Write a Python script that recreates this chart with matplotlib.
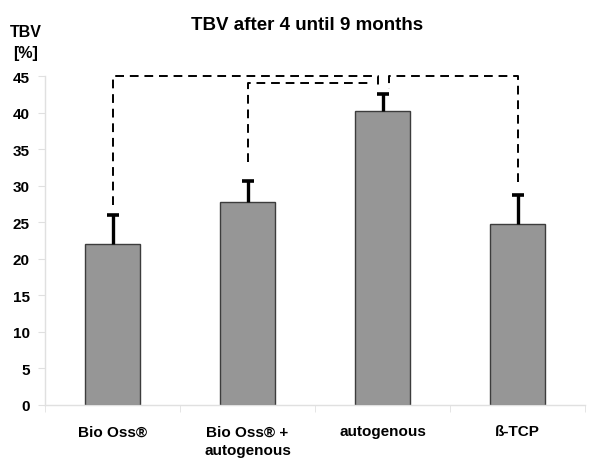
import matplotlib
matplotlib.use("Agg")
import matplotlib.pyplot as plt
import numpy as np

# TBV per graft material, mean and upper error (SD)
groups = ["Bio Oss®", "Bio Oss® +\nautogenous", "autogenous", "ß-TCP"]
tbv_mean = [22.0, 27.8, 40.2, 24.7]
tbv_err = [4.0, 2.9, 2.3, 4.0]

# significance brackets: (from bar, to bar, top level, left drop end, right drop end, x shift at "to" end)
brackets = [
    (0, 2, 45.0, 27.3, 43.3, -0.03),
    (1, 2, 44.0, 33.2, 43.3, -0.11),
    (3, 2, 45.0, 30.5, 43.2, 0.05),
]

plt.rcParams['font.family'] = ['Liberation Sans', 'DejaVu Sans']
plt.rcParams['font.weight'] = 'bold'

fig = plt.figure(figsize=(6.0, 4.64), dpi=100, facecolor='white')
ax = fig.add_axes([0.075, 0.125, 0.9, 0.709])

x = np.arange(len(groups))
tops = np.array(tbv_mean) + np.array(tbv_err)
ax.bar(x, tbv_mean, width=0.41, color='#969696', edgecolor='#3c3c3c', linewidth=1.0, zorder=2)
# only the upper half of the error bar, as in the original
ax.vlines(x, tbv_mean, tops, color='black', linewidth=2.4, zorder=3)
ax.plot(x, tops, linestyle='none', marker='_', markersize=9, markeredgewidth=2.6,
        color='black', zorder=3)

for i, j, top, bot_i, bot_j, shift in brackets:
    xj = j + shift
    ax.plot([i, i, xj, xj], [bot_i, top, top, bot_j], color='black', linewidth=1.4,
            linestyle=(0, (4.5, 3)), zorder=4, clip_on=False)

ax.set_xlim(-0.5, 3.5)
ax.set_ylim(0, 45)
ax.set_yticks(np.arange(0, 46, 5))
ax.set_xticks(x)
ax.set_xticklabels(groups, fontsize=11, fontweight='bold', va='top', linespacing=1.4)
ax.set_xticks(np.arange(-0.5, 3.6, 1), minor=True)
ax.tick_params(axis='x', which='major', length=0, pad=14)
ax.tick_params(axis='x', which='minor', length=5, color='#e0e0e0', direction='out')
ax.tick_params(axis='y', labelsize=11, length=5, color='#e0e0e0', pad=6)
for lab in ax.get_yticklabels():
    lab.set_fontweight('bold')

for side in ['top', 'right']:
    ax.spines[side].set_visible(False)
for side in ['left', 'bottom']:
    ax.spines[side].set_color('#e0e0e0')
    ax.spines[side].set_linewidth(1.0)

fig.text(0.512, 0.944, "TBV after 4 until 9 months", ha='center', va='center',
         fontsize=13.5, fontweight='bold')
fig.text(0.016, 0.929, "TBV", ha='left', va='center', fontsize=11.5, fontweight='bold')
fig.text(0.022, 0.885, "[%]", ha='left', va='center', fontsize=11.5, fontweight='bold')

fig.savefig("out.png", dpi=100, facecolor='white')
